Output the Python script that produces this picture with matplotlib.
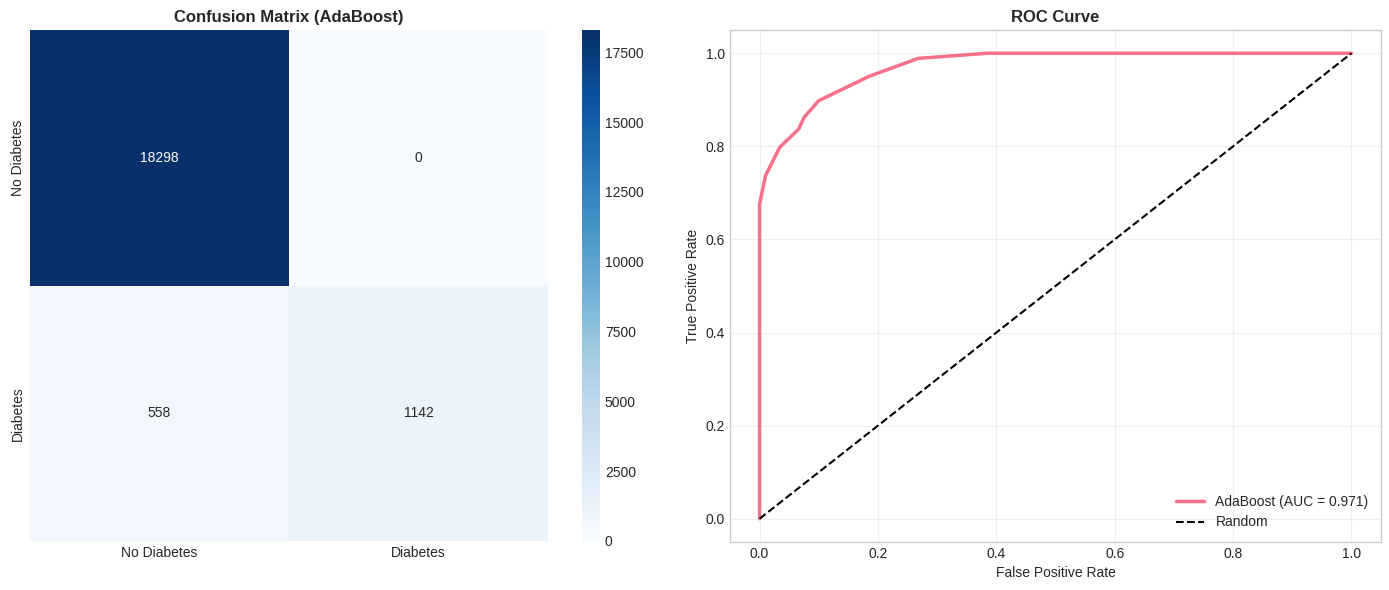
import matplotlib
matplotlib.use("Agg")
import matplotlib.pyplot as plt
import seaborn as sns
import numpy as np

plt.style.use("seaborn-v0_8-whitegrid")
plt.rcParams['font.family'] = ['Liberation Sans', 'DejaVu Sans']

class_labels = ["No Diabetes", "Diabetes"]
cm = np.array([[18298, 0],
               [558, 1142]])

fpr = [0.0, 0.0, 0.010, 0.034, 0.066, 0.075, 0.0997, 0.186, 0.268, 0.384, 1.0]
tpr = [0.0, 0.676, 0.737, 0.798, 0.837, 0.862, 0.898, 0.951, 0.989, 1.0, 1.0]
auc_value = 0.971
model_name = "AdaBoost"

line_color = sns.color_palette("husl", 8)[0]

W, H = 1389, 590
fig = plt.figure(figsize=(W / 100, H / 100), dpi=100)

def px_axes(x0, y0, x1, y1):
    return fig.add_axes([x0 / W, 1 - y1 / H, (x1 - x0) / W, (y1 - y0) / H])

ax_hm = px_axes(30, 30, 548, 541)
cax = px_axes(582, 30, 600, 541)
ax_roc = px_axes(730, 30, 1381, 542)

sns.heatmap(cm, annot=True, fmt="d", cmap="Blues", ax=ax_hm, cbar_ax=cax,
            xticklabels=class_labels, yticklabels=class_labels)
ax_hm.set_title(f"Confusion Matrix ({model_name})", fontsize=12, fontweight="bold")

ax = ax_roc
ax.plot(fpr, tpr, color=line_color, lw=2.5, label=f"{model_name} (AUC = {auc_value:.3f})")
ax.plot([0, 1], [0, 1], "k--", lw=1.5, label="Random")
ax.set_xlabel("False Positive Rate")
ax.set_ylabel("True Positive Rate")
ax.set_title("ROC Curve", fontsize=12, fontweight="bold")
ax.legend(loc="lower right")
ax.grid(True, alpha=0.3)

fig.savefig("out.png", dpi=100)
